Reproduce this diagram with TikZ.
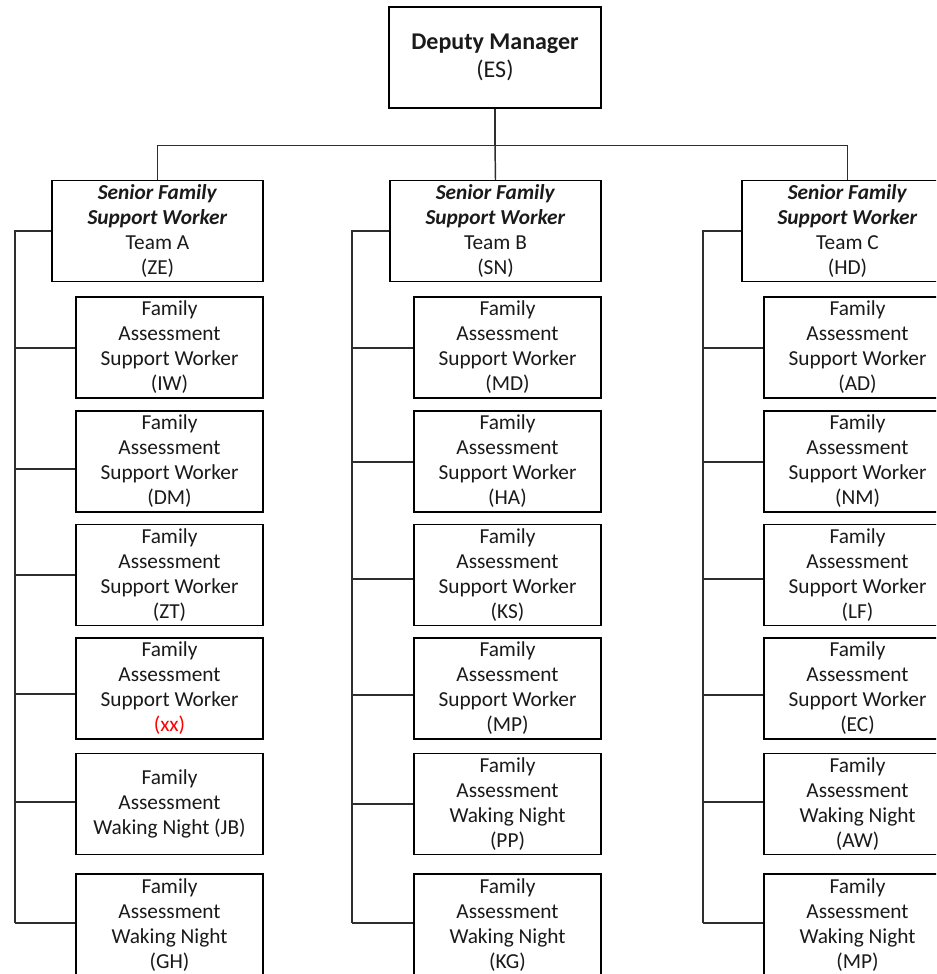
\documentclass[tikz,border=0pt]{standalone}
\usepackage{fontspec}
\setmainfont{Carlito}
\usetikzlibrary{calc}
\definecolor{ink}{HTML}{1A1A1A}
\definecolor{wire}{HTML}{2E2E2E}
\definecolor{flag}{HTML}{FF0000}
\begin{document}
\begin{tikzpicture}[x=0.75pt,y=-0.75pt,
  base/.style={draw=black, line width=1.1pt, inner sep=0pt, align=center, text=ink,
    font=\fontsize{16}{18.75}\selectfont},
  headbox/.style={base, minimum width=159pt, minimum height=75.75pt,
    font=\fontsize{18}{21}\selectfont},
  seniorbox/.style={base, minimum width=158.25pt, minimum height=75.75pt},
  staffbox/.style={base, minimum width=140.25pt, minimum height=75.75pt},
  lastbox/.style={base, minimum width=140.25pt, minimum height=76.5pt},
  wire/.style={draw=wire, line width=1.1pt}]
\useasboundingbox (0,0) rectangle (936,974);
\clip (0,0) rectangle (936,974);
\fill[white] (0,0) rectangle (936,974);

% manager
\node[headbox] (dm) at (495,57.5) {\textbf{Deputy Manager}\\(ES)};

% team leads
\node[seniorbox] (sa) at (157.5,231) {\textbf{\textit{Senior Family}}\\\textbf{\textit{Support Worker}}\\Team A\\(ZE)};
\node[seniorbox] (sb) at (495.5,231) {\textbf{\textit{Senior Family}}\\\textbf{\textit{Support Worker}}\\Team B\\(SN)};
\node[seniorbox] (sc) at (847.5,231) {\textbf{\textit{Senior Family}}\\\textbf{\textit{Support Worker}}\\Team C\\(HD)};

% team A staff
\node[staffbox] (a1) at (169.5,347.5) {Family\\Assessment\\Support Worker\\(IW)};
\node[staffbox] (a2) at (169.5,461.5) {Family\\Assessment\\Support Worker\\(DM)};
\node[staffbox] (a3) at (169.5,575) {Family\\Assessment\\Support Worker\\(ZT)};
\node[staffbox] (a4) at (169.5,688.5) {Family\\Assessment\\Support Worker\\\textcolor{flag}{(xx)}};
\node[staffbox] (a5) at (169.5,804) {Family\\Assessment\\Waking Night (JB)};
\node[lastbox] (a6) at (169.5,925) {Family\\Assessment\\Waking Night\\(GH)};

% team B staff
\node[staffbox] (b1) at (507.5,347.5) {Family\\Assessment\\Support Worker\\(MD)};
\node[staffbox] (b2) at (507.5,461.5) {Family\\Assessment\\Support Worker\\(HA)};
\node[staffbox] (b3) at (507.5,575) {Family\\Assessment\\Support Worker\\(KS)};
\node[staffbox] (b4) at (507.5,688.5) {Family\\Assessment\\Support Worker\\(MP)};
\node[staffbox] (b5) at (507.5,804) {Family\\Assessment\\Waking Night\\(PP)};
\node[lastbox] (b6) at (507.5,925) {Family\\Assessment\\Waking Night\\(KG)};

% team C staff
\node[staffbox] (c1) at (857.5,347.5) {Family\\Assessment\\Support Worker\\(AD)};
\node[staffbox] (c2) at (857.5,461.5) {Family\\Assessment\\Support Worker\\(NM)};
\node[staffbox] (c3) at (857.5,575) {Family\\Assessment\\Support Worker\\(LF)};
\node[staffbox] (c4) at (857.5,688.5) {Family\\Assessment\\Support Worker\\(EC)};
\node[staffbox] (c5) at (857.5,804) {Family\\Assessment\\Waking Night\\(AW)};
\node[lastbox] (c6) at (857.5,925) {Family\\Assessment\\Waking Night\\(MP)};

% manager to team leads
\draw[wire] (dm.south) -- ++(0,36.5) coordinate (hub);
\draw[wire] (hub) -| (sa.north);
\draw[wire] (hub) -| (sc.north);
\draw[wire] (hub) -- (sb.north);

% team buses
\coordinate (busA) at (15,923);
\coordinate (busB) at (352,923);
\coordinate (busC) at (703,923);
\draw[wire] (sa.west) -| (busA);
\draw[wire] (sb.west) -| (busB);
\draw[wire] (sc.west) -| (busC);

% staff branches
\foreach \n/\d/\bus in {a1/0.5/busA, a2/7.5/busA, a3/0/busA, a4/5.5/busA, a5/-2/busA, a6/-2/busA,
                        b1/0.5/busB, b2/0.5/busB, b3/4/busB, b4/6.5/busB, b5/0/busB, b6/-2/busB,
                        c1/0.5/busC, c2/0.5/busC, c3/4/busC, c4/6.5/busC, c5/-2/busC, c6/-2/busC}{
  \path ($(\n.west)+(0,\d)$) coordinate (tap);
  \draw[wire] (tap) -- (tap -| \bus);
}
\end{tikzpicture}
\end{document}
